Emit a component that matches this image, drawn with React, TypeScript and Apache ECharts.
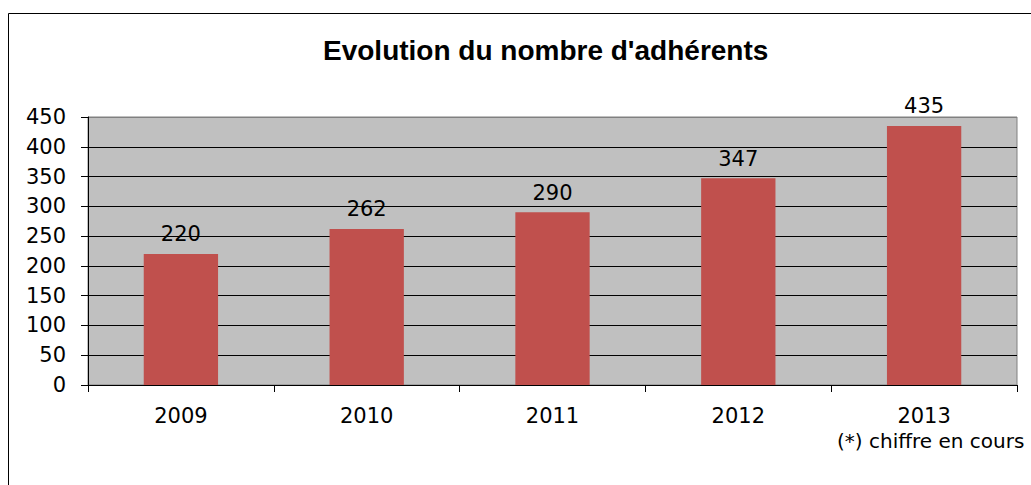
import React, { useEffect, useRef } from "react";
import * as echarts from "echarts";

const categories = ["2009", "2010", "2011", "2012", "2013"];
const members = [220, 262, 290, 347, 435];
const chartTitle = "Evolution du nombre d'adhérents";
const noteText = "(*) chiffre en cours";

export default function App() {
  const ref = useRef<HTMLDivElement>(null);
  useEffect(() => {
    if (!ref.current) return;
    const chart = echarts.init(ref.current, null, { renderer: "svg" });
    const small = { fontFamily: "DejaVu Sans", fontSize: 21, color: "#000" };
    const splitColors = Array.from({ length: 10 }, (_, i) => (i === 9 ? "#808080" : "#000000"));
    chart.setOption({
      animation: false,
      backgroundColor: "#ffffff",
      title: {
        text: chartTitle,
        left: 318,
        top: 31,
        textStyle: { fontFamily: "Liberation Sans", fontSize: 28, fontWeight: "bold", color: "#000" },
      },
      grid: {
        left: 88,
        top: 117,
        right: 14,
        bottom: 100,
        show: true,
        backgroundColor: "#C0C0C0",
        borderColor: "#808080",
        borderWidth: 1,
      },
      xAxis: {
        type: "category",
        data: categories,
        axisLine: { show: true, lineStyle: { color: "#000", width: 1 } },
        axisTick: { show: true, length: 7, lineStyle: { color: "#000" } },
        axisLabel: { ...small, margin: 20 },
        splitLine: { show: false },
      },
      yAxis: {
        type: "value",
        min: 0,
        max: 450,
        interval: 50,
        axisLine: { show: true, lineStyle: { color: "#000", width: 1 } },
        axisTick: { show: true, length: 7, lineStyle: { color: "#000" } },
        axisLabel: { ...small, margin: 22 },
        splitLine: { show: true, lineStyle: { color: splitColors, width: 1 } },
      },
      series: [
        {
          type: "bar",
          data: members,
          barWidth: "40%",
          itemStyle: { color: "#C0504D" },
          label: { show: true, position: "top", distance: 9, ...small },
        },
      ],
      graphic: [
        {
          type: "rect",
          shape: { x: 8.5, y: 13.5, width: 1200, height: 700 },
          style: { fill: "none", stroke: "#000", lineWidth: 1 },
          silent: true,
        },
        {
          type: "text",
          x: 837,
          y: 441,
          style: {
            text: noteText,
            fontFamily: "DejaVu Sans",
            fontSize: 20,
            fill: "#000",
            textAlign: "left",
            textVerticalAlign: "middle",
          },
        },
      ],
    });
    return () => chart.dispose();
  }, []);
  return (
    <div
      ref={ref}
      style={{ position: "absolute", left: 0, top: 0, width: 1031, height: 485 }}
    />
  );
}
